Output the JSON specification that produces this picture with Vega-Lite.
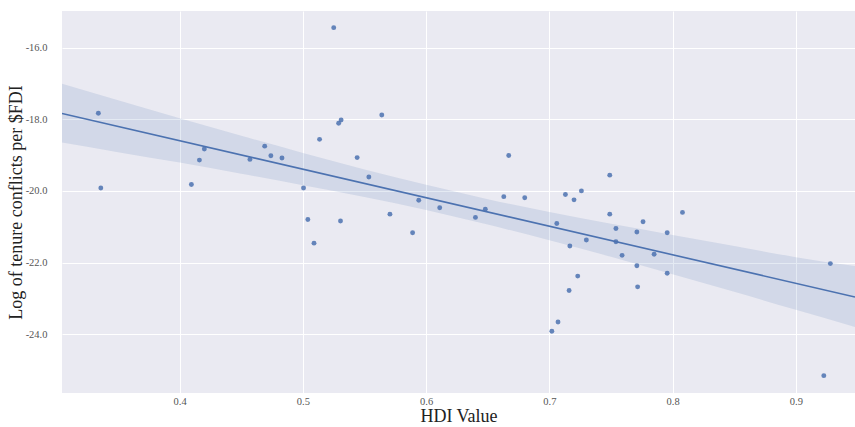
{
  "$schema": "https://vega.github.io/schema/vega-lite/v6.json",
  "width": 793,
  "height": 382,
  "autosize": {"type": "none"},
  "padding": {"left": 62, "top": 11, "right": 0, "bottom": 34},
  "background": "white",
  "config": {
    "view": {"fill": "#eaeaf2", "stroke": null},
    "font": "Liberation Serif",
    "axis": {
      "grid": true, "gridColor": "white", "gridWidth": 1,
      "domain": false, "ticks": false,
      "labelFont": "Liberation Serif", "labelFontSize": 10.5, "labelColor": "#555555",
      "titleFont": "Liberation Serif", "titleFontSize": 18, "titleFontWeight": "normal", "titleColor": "#222222"
    }
  },
  "datasets": {
    "points": [
      {"hdi": 0.334, "conflicts": -17.83},
      {"hdi": 0.336, "conflicts": -19.92},
      {"hdi": 0.4095, "conflicts": -19.82},
      {"hdi": 0.416, "conflicts": -19.14},
      {"hdi": 0.420, "conflicts": -18.83},
      {"hdi": 0.457, "conflicts": -19.12},
      {"hdi": 0.469, "conflicts": -18.75},
      {"hdi": 0.474, "conflicts": -19.02},
      {"hdi": 0.483, "conflicts": -19.08},
      {"hdi": 0.5005, "conflicts": -19.92},
      {"hdi": 0.504, "conflicts": -20.80},
      {"hdi": 0.5135, "conflicts": -18.56},
      {"hdi": 0.525, "conflicts": -15.44},
      {"hdi": 0.529, "conflicts": -18.11},
      {"hdi": 0.531, "conflicts": -18.02},
      {"hdi": 0.564, "conflicts": -17.88},
      {"hdi": 0.544, "conflicts": -19.07},
      {"hdi": 0.5535, "conflicts": -19.61},
      {"hdi": 0.5305, "conflicts": -20.84},
      {"hdi": 0.5706, "conflicts": -20.65},
      {"hdi": 0.594, "conflicts": -20.26},
      {"hdi": 0.611, "conflicts": -20.47},
      {"hdi": 0.640, "conflicts": -20.74},
      {"hdi": 0.648, "conflicts": -20.51},
      {"hdi": 0.663, "conflicts": -20.16},
      {"hdi": 0.667, "conflicts": -19.01},
      {"hdi": 0.680, "conflicts": -20.19},
      {"hdi": 0.713, "conflicts": -20.10},
      {"hdi": 0.720, "conflicts": -20.25},
      {"hdi": 0.726, "conflicts": -20.00},
      {"hdi": 0.706, "conflicts": -20.91},
      {"hdi": 0.509, "conflicts": -21.46},
      {"hdi": 0.589, "conflicts": -21.17},
      {"hdi": 0.749, "conflicts": -19.56},
      {"hdi": 0.749, "conflicts": -20.65},
      {"hdi": 0.754, "conflicts": -21.05},
      {"hdi": 0.776, "conflicts": -20.86},
      {"hdi": 0.771, "conflicts": -21.15},
      {"hdi": 0.7956, "conflicts": -21.17},
      {"hdi": 0.808, "conflicts": -20.60},
      {"hdi": 0.7166, "conflicts": -21.54},
      {"hdi": 0.730, "conflicts": -21.37},
      {"hdi": 0.754, "conflicts": -21.42},
      {"hdi": 0.759, "conflicts": -21.80},
      {"hdi": 0.785, "conflicts": -21.77},
      {"hdi": 0.771, "conflicts": -22.09},
      {"hdi": 0.7956, "conflicts": -22.30},
      {"hdi": 0.723, "conflicts": -22.38},
      {"hdi": 0.716, "conflicts": -22.78},
      {"hdi": 0.7716, "conflicts": -22.68},
      {"hdi": 0.707, "conflicts": -23.66},
      {"hdi": 0.702, "conflicts": -23.92},
      {"hdi": 0.928, "conflicts": -22.03},
      {"hdi": 0.9227, "conflicts": -25.16}
    ],
    "band": [
      {"hdi": 0.3045, "lower": -18.65, "upper": -17.01},
      {"hdi": 0.35, "lower": -18.92, "upper": -17.47},
      {"hdi": 0.40, "lower": -19.21, "upper": -17.97},
      {"hdi": 0.45, "lower": -19.52, "upper": -18.46},
      {"hdi": 0.50, "lower": -19.84, "upper": -18.94},
      {"hdi": 0.55, "lower": -20.17, "upper": -19.40},
      {"hdi": 0.60, "lower": -20.53, "upper": -19.83},
      {"hdi": 0.65, "lower": -20.94, "upper": -20.23},
      {"hdi": 0.70, "lower": -21.38, "upper": -20.59},
      {"hdi": 0.75, "lower": -21.84, "upper": -20.92},
      {"hdi": 0.80, "lower": -22.33, "upper": -21.23},
      {"hdi": 0.85, "lower": -22.82, "upper": -21.54},
      {"hdi": 0.90, "lower": -23.32, "upper": -21.85},
      {"hdi": 0.948, "lower": -23.80, "upper": -22.10}
    ]
  },
  "layer": [
    {
      "data": {"name": "band"},
      "mark": {"type": "area", "color": "#4c72b0", "opacity": 0.15, "interpolate": "monotone", "clip": true},
      "encoding": {
        "x": {
          "field": "hdi", "type": "quantitative",
          "scale": {"domain": [0.3045, 0.948], "nice": false, "zero": false},
          "axis": {"title": "HDI Value", "values": [0.4, 0.5, 0.6, 0.7, 0.8, 0.9], "format": ".1f", "labelPadding": 3, "titlePadding": 1}
        },
        "y": {
          "field": "lower", "type": "quantitative",
          "scale": {"domain": [-25.645, -14.975], "nice": false, "zero": false},
          "axis": {
            "title": "Log of tenure conflicts per $FDI",
            "values": [-24, -22, -20, -18, -16],
            "labelExpr": "replace(format(datum.value, '.1f'), '\u2212', '-')",
            "labelPadding": 15,
            "titleX": -37, "titleY": 191, "titleBaseline": "bottom", "titleAngle": 270, "titleAlign": "center"
          }
        },
        "y2": {"field": "upper"}
      }
    },
    {
      "data": {"name": "points"},
      "mark": {"type": "circle", "size": 24, "color": "#4c72b0", "opacity": 0.85},
      "encoding": {
        "x": {"field": "hdi", "type": "quantitative"},
        "y": {"field": "conflicts", "type": "quantitative"}
      }
    },
    {
      "data": {"name": "points"},
      "transform": [{"regression": "conflicts", "on": "hdi", "extent": [0.3045, 0.948]}],
      "mark": {"type": "line", "color": "#4c72b0", "strokeWidth": 1.6, "clip": true},
      "encoding": {
        "x": {"field": "hdi", "type": "quantitative"},
        "y": {"field": "conflicts", "type": "quantitative"}
      }
    }
  ]
}
